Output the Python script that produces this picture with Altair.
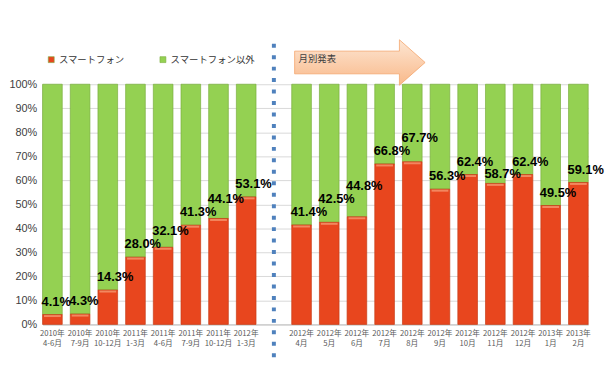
import altair as alt
import pandas as pd

# ---- data ----
periods = [
    "2010年\n4-6月", "2010年\n7-9月", "2010年\n10-12月", "2011年\n1-3月",
    "2011年\n4-6月", "2011年\n7-9月", "2011年\n10-12月", "2012年\n1-3月",
    "2012年\n4月", "2012年\n5月", "2012年\n6月", "2012年\n7月", "2012年\n8月",
    "2012年\n9月", "2012年\n10月", "2012年\n11月", "2012年\n12月",
    "2013年\n1月", "2013年\n2月",
]
smartphone_share = [4.1, 4.3, 14.3, 28.0, 32.1, 41.3, 44.1, 53.1,
                    41.4, 42.5, 44.8, 66.8, 67.7, 56.3, 62.4, 58.7, 62.4, 49.5, 59.1]
series_names = ["スマートフォン", "スマートフォン以外"]
y_ticks = [0.0, 0.1, 0.2, 0.3, 0.4, 0.5, 0.6, 0.7, 0.8, 0.9, 1.0]
separator_slot = " "
arrow_text = "月別発表"

x_domain = periods[:8] + [separator_slot] + periods[8:]

# ---- simple label de-collision (layout only, derived from the values) ----
PLOT_H = 243
STEP = 552 / len(x_domain)
LABEL_DY = -13
LINE = 13


def label_width(v):
    s = f"{v:.1f}%"
    return sum(7.23 if c.isdigit() else (3.61 if c == "." else 11.56) for c in s)


label_anchor = []
prev_y = None
prev_w = 0
for i, v in enumerate(smartphone_share):
    base_y = PLOT_H * (1 - v / 100) + LABEL_DY
    y_px = base_y
    new_group = (i == 8)
    if prev_y is not None and not new_group and prev_w > STEP + 4 and abs(y_px - prev_y) < LINE:
        if y_px >= prev_y:
            cand = prev_y + LINE
            bar_top = PLOT_H * (1 - v / 100)
            y_px = cand if cand + 7 <= bar_top else prev_y - LINE
        else:
            y_px = prev_y - LINE
    label_anchor.append(v / 100 - (y_px - base_y) / PLOT_H)
    prev_y = y_px
    prev_w = label_width(v)

df = pd.DataFrame({"period": periods,
                   "share": [v / 100 for v in smartphone_share],
                   "label_pos": label_anchor})
sep_df = pd.DataFrame({"period": [separator_slot]})

RED = "#e8461e"
GREEN = "#94d152"

x = alt.X("period:N", sort=x_domain,
          scale=alt.Scale(domain=x_domain, paddingInner=0.29, paddingOuter=0),
          axis=alt.Axis(title=None, labelAngle=0, ticks=False, domain=True,
                        domainColor="#bfbfbf", labelColor="#595959",
                        labelFont="Noto Sans CJK JP", labelFontSize=7.8,
                        labelLineHeight=10.5, labelPadding=5, labelOverlap=False,
                        labelExpr="split(datum.label, '\\n')"))
y_scale = alt.Scale(domain=[0, 1], nice=False)
y_axis = alt.Axis(title=None, values=y_ticks, format=".0%",
                  ticks=False, domain=True, domainColor="#bfbfbf", labelOverlap=False,
                  grid=True, gridColor="#d9d9d9", labelColor="#404040",
                  labelFont="Liberation Sans", labelFontSize=11, labelPadding=6)
y = alt.Y("share:Q", scale=y_scale, axis=y_axis)

color_scale = alt.Scale(domain=series_names, range=[RED, GREEN])
legend = alt.Legend(title=None, orient="none", legendX=4, legendY=-30,
                    direction="horizontal", columns=2, columnPadding=33,
                    symbolType="square", symbolSize=36, symbolStrokeWidth=0.6,
                    labelFont="Noto Sans CJK JP", labelFontSize=9.5,
                    labelColor="#333333", labelOffset=3, padding=0)
color = alt.Color("series:N", scale=color_scale, legend=legend)

base = alt.Chart(df)

green = base.transform_calculate(series=f"'{series_names[1]}'").mark_bar(
    stroke="#7aae3e", strokeWidth=0.7).encode(
    x=x, y=y, y2=alt.Y2(datum=1), color=color,
)
red = base.transform_calculate(series=f"'{series_names[0]}'").mark_bar(
    stroke="#c63d17", strokeWidth=0.7).encode(
    x=x, y=y, color=color,
)
highlight = base.mark_tick(color="#f7a27a", thickness=2, size=17, yOffset=1.5).encode(
    x=x, y=y
)
labels = base.mark_text(align="left", baseline="middle", dx=-11, dy=LABEL_DY,
                        font="Liberation Sans", fontSize=13, fontWeight="bold",
                        color="#000000").encode(
    x=x,
    y=alt.Y("label_pos:Q", scale=y_scale, axis=y_axis),
    text=alt.Text("share:Q", format=".1%"),
)

sep = alt.Chart(sep_df).mark_rule(color="#4f81bd", strokeWidth=4,
                                  strokeDash=[4, 7.6], strokeCap="butt").encode(
    x=x, y=alt.value(-41), y2=alt.value(282)
)

arrow_path = ("M-1,-0.174 L0.606,-0.174 L0.606,-0.348 L1,0 L0.606,0.348 "
              "L0.606,0.174 L-1,0.174 Z")
arrow = alt.Chart(sep_df).mark_point(
    shape=arrow_path, size=132 * 132, filled=True, opacity=1,
    fill=alt.Gradient(gradient="linear",
                      stops=[alt.GradientStop(color="#fde6d3", offset=0),
                             alt.GradientStop(color="#f9b98a", offset=1)],
                      x1=0, x2=0, y1=0, y2=1),
    stroke="#f4a56c", strokeWidth=0.8,
).encode(x=alt.value(321), y=alt.value(-22))

arrow_label = alt.Chart(sep_df).mark_text(
    align="left", baseline="middle", font="Noto Sans CJK JP", fontSize=9.5,
    color="#404040", text=arrow_text,
).encode(x=alt.value(259), y=alt.value(-25))

chart = alt.layer(green, red, highlight, labels, sep, arrow, arrow_label).properties(
    width=552, height=243,
    autosize=alt.AutoSizeParams(type="none"),
    padding={"left": 35, "top": 75, "right": 17, "bottom": 45},
).configure_view(stroke=None)

chart.save("out.html", embed_options={"renderer": "svg", "actions": False})
